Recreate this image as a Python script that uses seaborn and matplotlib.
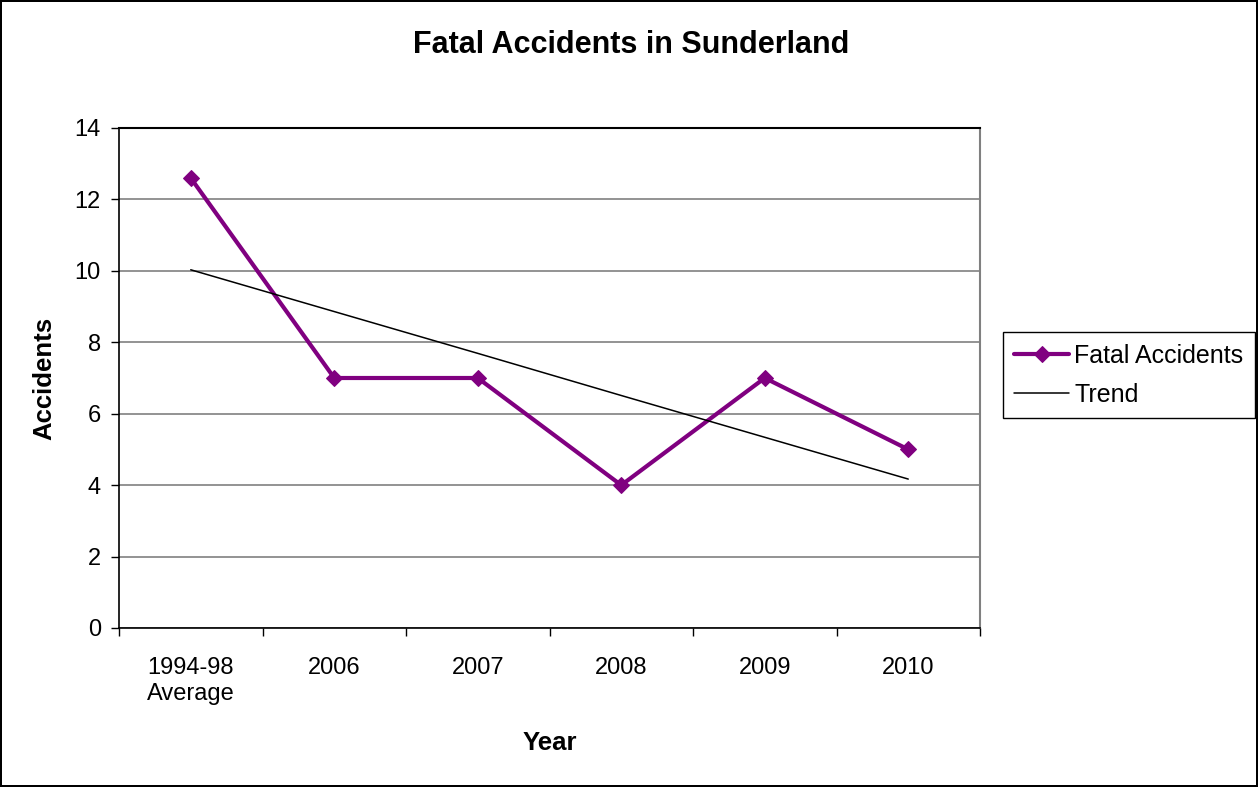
import matplotlib
matplotlib.use("Agg")
import matplotlib.pyplot as plt
import seaborn as sns
import pandas as pd
import numpy as np

categories = ["1994-98\nAverage", "2006", "2007", "2008", "2009", "2010"]
fatal = [12.6, 7, 7, 4, 7, 5]
trend = [10.03, 8.86, 7.69, 6.51, 5.34, 4.17]

sns.set_theme(style="white")
plt.rcParams['font.family'] = ['Liberation Sans', 'DejaVu Sans']
plt.rcParams['text.color'] = 'black'
plt.rcParams['axes.labelcolor'] = 'black'
plt.rcParams['xtick.color'] = 'black'
plt.rcParams['ytick.color'] = 'black'

df = pd.DataFrame({"pos": np.arange(len(categories)), "Fatal Accidents": fatal, "Trend": trend})

fig = plt.figure(figsize=(12.58, 7.87), dpi=100)
fig.patch.set_facecolor("white")
fig.patch.set_edgecolor("black")
fig.patch.set_linewidth(1.5)
ax = fig.add_axes([119/1258, 1 - 628/787, (980-119)/1258, (628-128)/787])

sns.lineplot(data=df, x="pos", y="Fatal Accidents", ax=ax, color="#800080", linewidth=3,
             marker="D", markersize=8, markeredgecolor="#800080", label="Fatal Accidents")
sns.lineplot(data=df, x="pos", y="Trend", ax=ax, color="black", linewidth=1.1, label="Trend")

ax.set_xlim(-0.5, len(categories) - 0.5)
ax.set_ylim(0, 14)
ax.set_yticks(np.arange(0, 15, 2))
ax.yaxis.grid(True, color="#808080", linewidth=1.2)
ax.set_axisbelow(True)
ax.set_xticks(np.arange(len(categories)))
ax.set_xticklabels(categories, fontsize=17, linespacing=1.2)
ax.set_xticks(np.arange(-0.5, len(categories)), minor=True)
ax.tick_params(axis="x", which="major", length=0, pad=21)
ax.tick_params(axis="x", which="minor", length=6, width=1, color="black", direction="out", bottom=True)
ax.tick_params(axis="y", which="major", length=6, width=1, color="black", direction="out", left=True,
               labelsize=17, pad=7)

for s in ["left", "bottom"]:
    ax.spines[s].set_color("black")
    ax.spines[s].set_linewidth(1.2)
ax.spines["top"].set_color("black")
ax.spines["top"].set_linewidth(1.5)
ax.spines["right"].set_color("#808080")
ax.spines["right"].set_linewidth(1.5)

ax.set_xlabel("Year", fontsize=18.5, fontweight="bold", labelpad=19)
ax.set_ylabel("Accidents", fontsize=18.5, fontweight="bold", labelpad=13)
fig.suptitle("Fatal Accidents in Sunderland", fontsize=22, fontweight="bold", x=631/1258, y=1 - 45/787, va="center")

leg = ax.legend(loc="center left", bbox_to_anchor=(1003/1258, 1 - 375/787), bbox_transform=fig.transFigure,
                fontsize=18, frameon=True, fancybox=False, edgecolor="black", framealpha=1,
                handlelength=2.2, handletextpad=0.2, borderpad=0.45, labelspacing=0.6, borderaxespad=0)
leg.get_frame().set_linewidth(1)

fig.savefig("out.png", dpi=100, facecolor=fig.get_facecolor(), edgecolor=fig.get_edgecolor())
